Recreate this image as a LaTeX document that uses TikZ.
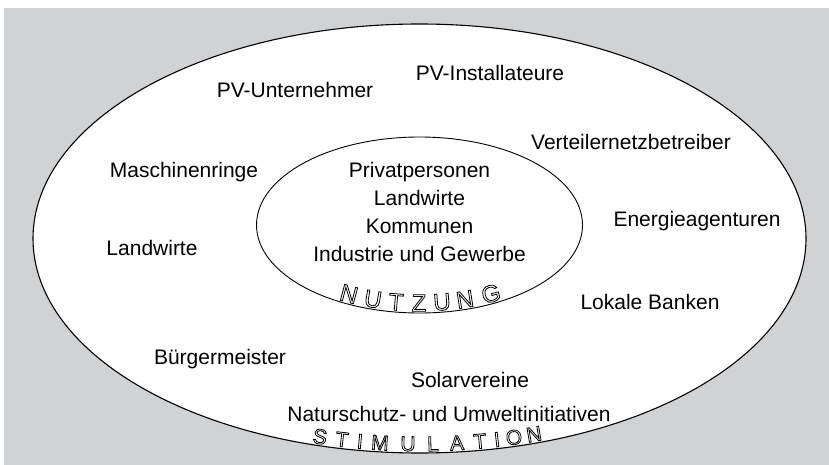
\documentclass[tikz,border=0pt]{standalone}
\usepackage{fontspec}
\setmainfont{Liberation Sans}
\usetikzlibrary{shapes.geometric}
\definecolor{bggray}{RGB}{209,210,212}
\newcommand{\outlinetext}[1]{{\color{white}\special{pdf:literal direct 2 Tr 0.8 w 0 G}#1\special{pdf:literal direct 0 Tr}}}
\begin{document}
\begin{tikzpicture}[x=1pt,y=-1pt,
  lbl/.style={font=\fontsize{21}{25}\selectfont, inner sep=0pt, text height=15pt, text depth=4pt},
  ring/.style={draw=black, fill=white, ellipse, inner sep=0pt},
  olet/.style={inner sep=0pt}]
\useasboundingbox (0,0) rectangle (829,465);
\fill[bggray] (4,8) rectangle (829,465);
\node[ring, line width=1.1pt, minimum width=773pt, minimum height=429pt] (outer) at (419.5,238.5) {};
\node[ring, line width=0.9pt, minimum width=326pt, minimum height=176pt] (inner) at (419.5,225) {};
% inner labels
\node[lbl] (ip1) at (419.5,172) {Privatpersonen};
\node[lbl] (ip2) at (419.5,200) {Landwirte};
\node[lbl] (ip3) at (419.5,228) {Kommunen};
\node[lbl] (ip4) at (419.5,256) {Industrie und Gewerbe};
% outer labels
\node[lbl] (o1) at (295,92) {PV-Unternehmer};
\node[lbl] (o2) at (490,75) {PV-Installateure};
\node[lbl] (o3) at (631,144) {Verteilernetzbetreiber};
\node[lbl] (o4) at (184,172) {Maschinenringe};
\node[lbl] (o5) at (697,221) {Energieagenturen};
\node[lbl] (o6) at (152,250) {Landwirte};
\node[lbl] (o7) at (650,304) {Lokale Banken};
\node[lbl] (o8) at (220,359) {Bürgermeister};
\node[lbl] (o9) at (470,382) {Solarvereine};
\node[lbl] (o10) at (449,416) {Naturschutz- und Umweltinitiativen};
% NUTZUNG along inner ellipse
\foreach \L/\X [count=\i] in {N/349,U/373,T/396,Z/419,U/442,N/465,G/491} {
  \pgfmathsetmacro\t{acos((\X-419.5)/152)}
  \pgfmathsetmacro\Y{225+78*sin(\t)}
  \pgfmathsetmacro\R{atan2(78*cos(\t),152*sin(\t))}
  \node[olet, font=\fontsize{24}{24}\selectfont, rotate=\R] (nu\i) at (\X,\Y) {\outlinetext{\L}};
}
% STIMULATION along outer ellipse
\foreach \L/\X [count=\i] in {S/320,T/342,I/360,M/380,U/408,L/433,A/457,T/480,I/497,O/514,N/534} {
  \pgfmathsetmacro\t{acos((\X-419.5)/376)}
  \pgfmathsetmacro\Y{238.5+205.5*sin(\t)}
  \pgfmathsetmacro\R{atan2(205.5*cos(\t),376*sin(\t))}
  \node[olet, font=\fontsize{21}{21}\selectfont, rotate=\R] (st\i) at (\X,\Y) {\outlinetext{\L}};
}
\end{tikzpicture}
\end{document}
